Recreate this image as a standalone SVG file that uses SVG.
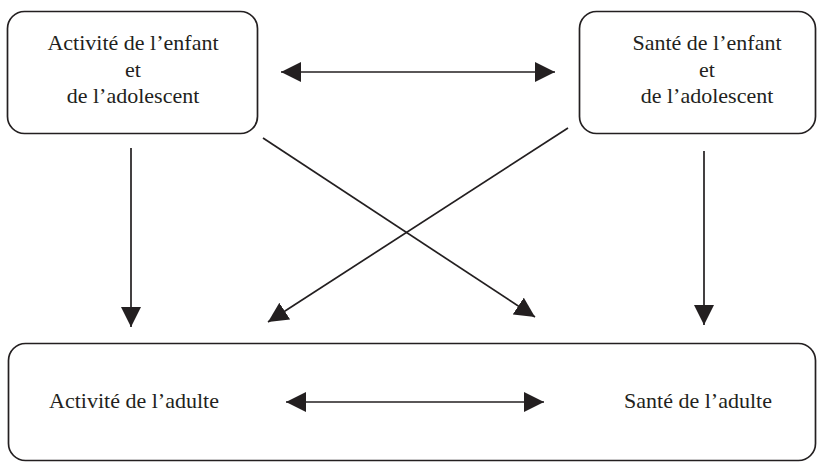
<svg xmlns="http://www.w3.org/2000/svg" width="817" height="462" viewBox="0 0 817 462">
<style>
.box{fill:#fff;stroke:#231f20;stroke-width:1.7}
.t{font-size:22px;fill:#231f20;text-anchor:middle}
.c{stroke:#231f20;stroke-width:1.7;fill:none}
</style>
<defs>
<marker id="ah" markerUnits="userSpaceOnUse" markerWidth="20" markerHeight="20" refX="20" refY="10" orient="auto-start-reverse" viewBox="0 0 20 20">
<path d="M0,0 L20,10 L0,20 z" fill="#231f20"/>
</marker>
</defs>
<rect width="817" height="462" fill="#fff"/>
<g id="node-activite-enfant" font-family="Liberation Serif, Times New Roman, serif">
<rect class="box" x="7.5" y="11.5" width="250" height="122" rx="17"/>
<text class="t" x="133" y="50">Activité de l’enfant</text>
<text class="t" x="133" y="77">et</text>
<text class="t" x="133" y="103">de l’adolescent</text>
</g>
<g id="node-sante-enfant" font-family="Liberation Serif, Times New Roman, serif">
<rect class="box" x="579.5" y="11.5" width="236" height="122" rx="17"/>
<text class="t" x="707" y="50">Santé de l’enfant</text>
<text class="t" x="707" y="77">et</text>
<text class="t" x="707" y="103">de l’adolescent</text>
</g>
<g id="node-adulte" font-family="Liberation Serif, Times New Roman, serif">
<rect class="box" x="8.5" y="343.5" width="807" height="117" rx="17"/>
<text class="t" x="134" y="408">Activité de l’adulte</text>
<text class="t" x="698" y="408">Santé de l’adulte</text>
</g>
<g id="connectors">
<line class="c" x1="281" y1="72" x2="555" y2="72" marker-start="url(#ah)" marker-end="url(#ah)"/>
<line class="c" x1="286" y1="402" x2="544" y2="402" marker-start="url(#ah)" marker-end="url(#ah)"/>
<line class="c" x1="131" y1="148" x2="131" y2="327" marker-end="url(#ah)"/>
<line class="c" x1="704" y1="151" x2="704" y2="325" marker-end="url(#ah)"/>
<line class="c" x1="263" y1="138" x2="535" y2="317" marker-end="url(#ah)"/>
<line class="c" x1="568" y1="128" x2="268" y2="322" marker-end="url(#ah)"/>
</g>
</svg>
